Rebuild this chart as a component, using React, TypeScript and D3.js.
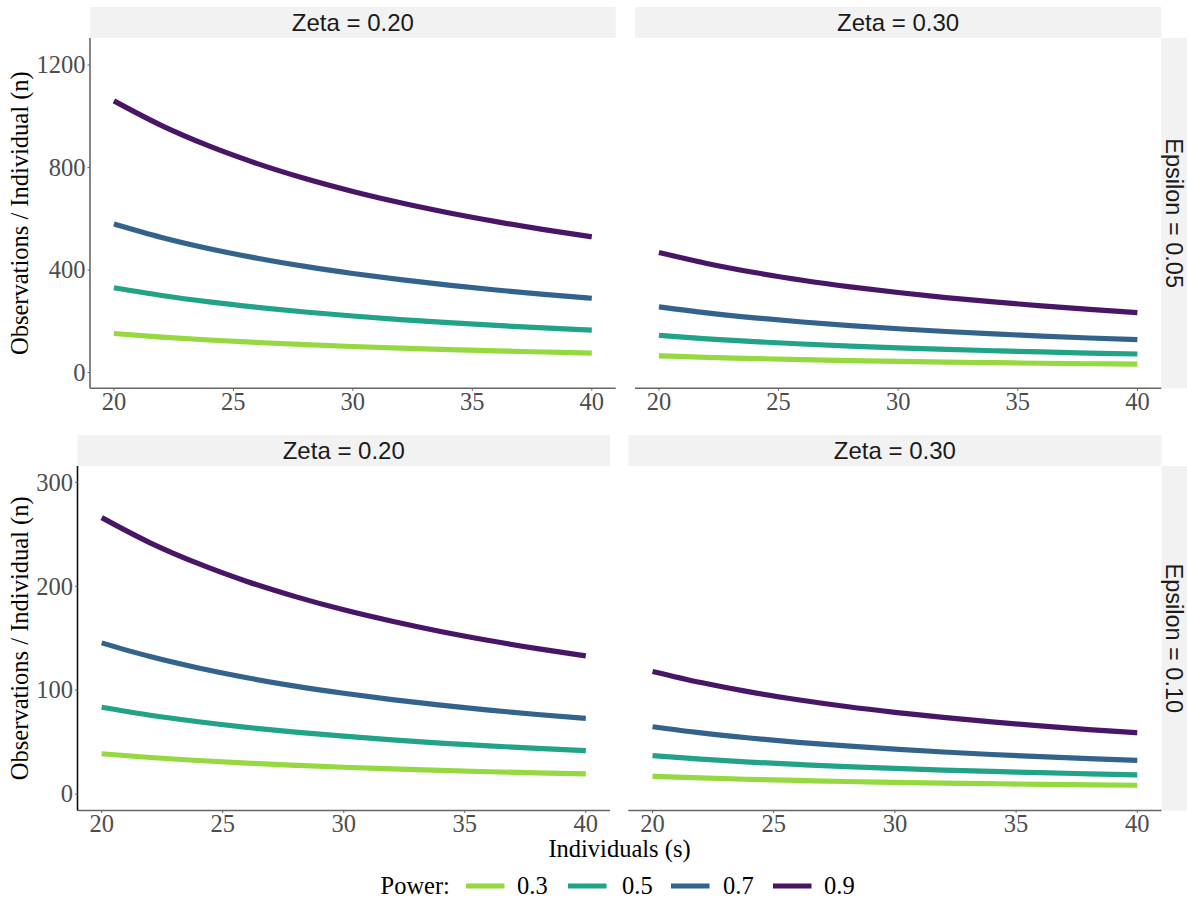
import React from "react";
import * as d3 from "d3";

const sValues = [20, 22, 24, 26, 28, 30, 32, 34, 36, 38, 40];
const powerLevels = ["0.3", "0.5", "0.7", "0.9"];
const powerColors = ["#95D840", "#20A386", "#33638D", "#481567"];
const zetaLabels = ["Zeta = 0.20", "Zeta = 0.30"];
const epsilonLabels = ["Epsilon = 0.05", "Epsilon = 0.10"];
const xTicks = [20, 25, 30, 35, 40];
const yTicksTop = [0, 400, 800, 1200];
const yTicksBottom = [0, 100, 200, 300];

// Epsilon = 0.05, Zeta = 0.20
const e05z20_p3 = [152.5, 138.6, 127.1, 117.3, 108.9, 101.7, 95.3, 89.7, 84.7, 80.3, 76.3];
const e05z20_p5 = [331, 300.9, 275.8, 254.6, 236.4, 220.7, 206.9, 194.7, 183.9, 174.2, 165.5];
const e05z20_p7 = [580, 527.3, 483.3, 446.2, 414.3, 386.7, 362.5, 341.2, 322.2, 305.3, 290];
const e05z20_p9 = [1060, 963.6, 883.3, 815.4, 757.1, 706.7, 662.5, 623.5, 588.9, 557.9, 530];
// Epsilon = 0.05, Zeta = 0.30
const e05z30_p3 = [65.5, 59.5, 54.6, 50.4, 46.8, 43.7, 40.9, 38.5, 36.4, 34.5, 32.8];
const e05z30_p5 = [145, 131.8, 120.8, 111.5, 103.6, 96.7, 90.6, 85.3, 80.6, 76.3, 72.5];
const e05z30_p7 = [256.5, 233.2, 213.8, 197.3, 183.2, 171, 160.3, 150.9, 142.5, 135, 128.3];
const e05z30_p9 = [468.5, 425.9, 390.4, 360.4, 334.6, 312.3, 292.8, 275.6, 260.3, 246.6, 234.3];
// Epsilon = 0.10, Zeta = 0.20
const e10z20_p3 = [38.8, 35.2, 32.3, 29.8, 27.7, 25.8, 24.2, 22.8, 21.5, 20.4, 19.4];
const e10z20_p5 = [83.5, 75.9, 69.6, 64.2, 59.6, 55.7, 52.2, 49.1, 46.4, 43.9, 41.8];
const e10z20_p7 = [145.5, 132.3, 121.3, 111.9, 103.9, 97, 90.9, 85.6, 80.8, 76.6, 72.8];
const e10z20_p9 = [266, 241.8, 221.7, 204.6, 190, 177.3, 166.3, 156.5, 147.8, 140, 133];
// Epsilon = 0.10, Zeta = 0.30
const e10z30_p3 = [17, 15.5, 14.2, 13.1, 12.1, 11.3, 10.6, 10, 9.4, 8.9, 8.5];
const e10z30_p5 = [37, 33.6, 30.8, 28.5, 26.4, 24.7, 23.1, 21.8, 20.6, 19.5, 18.5];
const e10z30_p7 = [64.8, 58.9, 54, 49.8, 46.3, 43.2, 40.5, 38.1, 36, 34.1, 32.4];
const e10z30_p9 = [118, 107.3, 98.3, 90.8, 84.3, 78.7, 73.8, 69.4, 65.6, 62.1, 59];

const panelSeries = [
  [
    [e05z20_p3, e05z20_p5, e05z20_p7, e05z20_p9],
    [e05z30_p3, e05z30_p5, e05z30_p7, e05z30_p9],
  ],
  [
    [e10z20_p3, e10z20_p5, e10z20_p7, e10z20_p9],
    [e10z30_p3, e10z30_p5, e10z30_p7, e10z30_p9],
  ],
];

const SERIF = "'Liberation Serif', 'Times New Roman', serif";
const SANS = "'Liberation Sans', Arial, sans-serif";

type RowLayout = {
  stripTop: number;
  panelTop: number;
  panelBottom: number;
  panels: [number, number][];
  yDomain: [number, number];
  yTicks: number[];
  yAxisColor: string;
};

const rows: RowLayout[] = [
  {
    stripTop: 7,
    panelTop: 38,
    panelBottom: 388.3,
    panels: [
      [90, 615.7],
      [635, 1161.3],
    ],
    yDomain: [-61.3, 1305.4],
    yTicks: yTicksTop,
    yAxisColor: "#666666",
  },
  {
    stripTop: 435,
    panelTop: 466,
    panelBottom: 810.5,
    panels: [
      [77.5, 610],
      [628.3, 1161.5],
    ],
    yDomain: [-15.8, 315.7],
    yTicks: yTicksBottom,
    yAxisColor: "#111111",
  },
];

function Row({ row, ri }: { row: RowLayout; ri: number }) {
  const y = d3
    .scaleLinear()
    .domain(row.yDomain)
    .range([row.panelBottom, row.panelTop]);
  const midY = (row.panelTop + row.panelBottom) / 2;
  const rightEdge = row.panels[1][1];
  return (
    <g>
      <rect
        x={rightEdge}
        y={row.panelTop}
        width={1187 - rightEdge}
        height={row.panelBottom - row.panelTop}
        fill="#F2F2F2"
      />
      <text
        transform={`translate(${rightEdge + 12.5},${midY}) rotate(90)`}
        textAnchor="middle"
        dy="0.35em"
        fontFamily={SANS}
        fontSize={23.5}
        fill="#1A1A1A"
      >
        {epsilonLabels[ri]}
      </text>
      <text
        transform={`translate(${19},${midY}) rotate(-90)`}
        textAnchor="middle"
        dy="0.35em"
        fontFamily={SERIF}
        fontSize={24.5}
        fill="#000"
      >
        Observations / Individual (n)
      </text>
      {row.panels.map(([x0, x1], ci) => {
        const x = d3.scaleLinear().domain([19, 41]).range([x0, x1]);
        const line = d3
          .line<number>()
          .x((_, i) => x(sValues[i]))
          .y((d) => y(d))
          .curve(d3.curveMonotoneX);
        return (
          <g key={ci}>
            <rect
              x={x0}
              y={row.stripTop}
              width={x1 - x0}
              height={row.panelTop - row.stripTop}
              fill="#F2F2F2"
            />
            <text
              x={(x0 + x1) / 2}
              y={(row.stripTop + row.panelTop) / 2}
              dy="0.36em"
              textAnchor="middle"
              fontFamily={SANS}
              fontSize={24}
              fill="#1A1A1A"
            >
              {zetaLabels[ci]}
            </text>
            {panelSeries[ri][ci].map((vals, si) => (
              <path
                key={si}
                d={line(vals) || ""}
                fill="none"
                stroke={powerColors[si]}
                strokeWidth={5.2}
                strokeLinecap="butt"
                strokeLinejoin="round"
              />
            ))}
            <line
              x1={x0}
              x2={x1}
              y1={row.panelBottom}
              y2={row.panelBottom}
              stroke="#666666"
              strokeWidth={1.6}
            />
            {xTicks.map((t) => (
              <g key={t}>
                <line
                  x1={x(t)}
                  x2={x(t)}
                  y1={row.panelBottom}
                  y2={row.panelBottom + 2.5}
                  stroke="#666666"
                  strokeWidth={1}
                />
                <text
                  x={x(t)}
                  y={row.panelBottom + 21.5}
                  textAnchor="middle"
                  fontFamily={SERIF}
                  fontSize={24.5}
                  fill="#4D4D4D"
                >
                  {t}
                </text>
              </g>
            ))}
            {ci === 0 && (
              <g>
                <line
                  x1={x0}
                  x2={x0}
                  y1={row.panelTop}
                  y2={row.panelBottom}
                  stroke={row.yAxisColor}
                  strokeWidth={1.6}
                />
                {row.yTicks.map((t) => (
                  <g key={t}>
                    <line
                      x1={x0 - 2.5}
                      x2={x0}
                      y1={y(t)}
                      y2={y(t)}
                      stroke="#666666"
                      strokeWidth={1}
                    />
                    <text
                      x={x0 - 4.5}
                      y={y(t)}
                      dy="0.34em"
                      textAnchor="end"
                      fontFamily={SERIF}
                      fontSize={24.5}
                      fill="#4D4D4D"
                    >
                      {t}
                    </text>
                  </g>
                ))}
              </g>
            )}
          </g>
        );
      })}
    </g>
  );
}

function Legend() {
  const keyY = 886;
  const baseY = 894;
  const keyStarts = [466, 568, 671, 773];
  const labelStarts = [517, 622, 723, 824];
  return (
    <g>
      <text x={380.5} y={baseY} fontFamily={SERIF} fontSize={24.5} fill="#000">
        Power:
      </text>
      {powerLevels.map((p, i) => (
        <g key={p}>
          <line
            x1={keyStarts[i]}
            x2={keyStarts[i] + 38.5}
            y1={keyY}
            y2={keyY}
            stroke={powerColors[i]}
            strokeWidth={5}
          />
          <text x={labelStarts[i]} y={baseY} fontFamily={SERIF} fontSize={24.5} fill="#000">
            {p}
          </text>
        </g>
      ))}
    </g>
  );
}

export default function App() {
  return (
    <svg
      width={1187}
      height={899}
      style={{ position: "absolute", left: 0, top: 0, background: "#fff" }}
    >
      <rect width={1187} height={899} fill="#fff" />
      {rows.map((r, i) => (
        <Row key={i} row={r} ri={i} />
      ))}
      <text
        x={619.5}
        y={857}
        textAnchor="middle"
        fontFamily={SERIF}
        fontSize={24.5}
        fill="#000"
      >
        Individuals (s)
      </text>
      <Legend />
    </svg>
  );
}
